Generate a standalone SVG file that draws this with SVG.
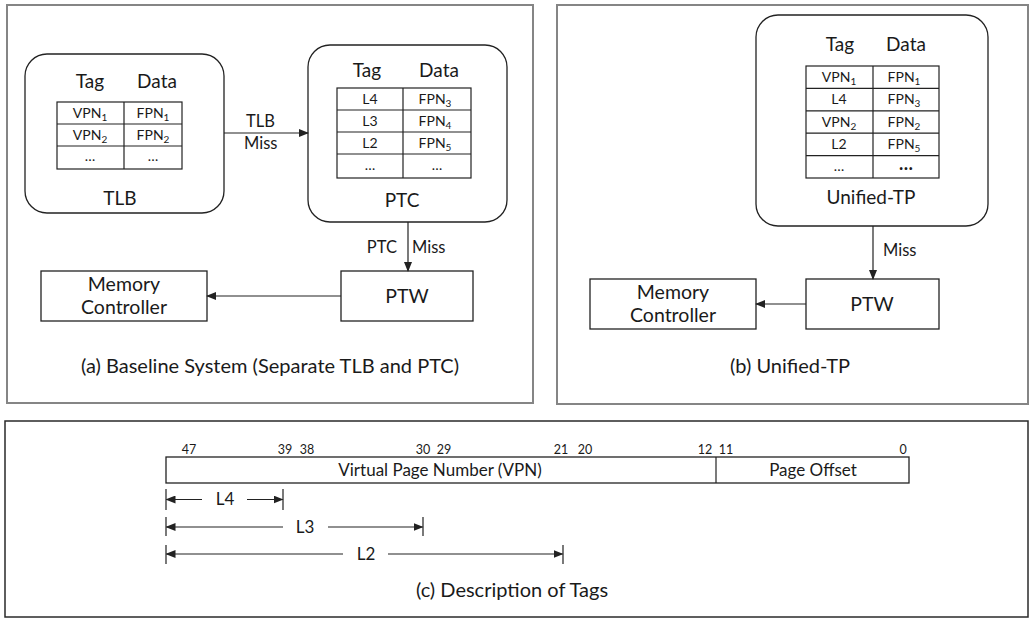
<svg xmlns="http://www.w3.org/2000/svg" width="1030" height="620" viewBox="0 0 1030 620">
<style>
text{font-family:Lato,"Open Sans","Liberation Sans",sans-serif;fill:#1a1a1a}
.panel{fill:none;stroke:#858585;stroke-width:2}
.panelc{fill:none;stroke:#2a2a2a;stroke-width:1.5}
.box{fill:#fff;stroke:#222;stroke-width:1.3}
.tbl{fill:none;stroke:#222;stroke-width:1.2}
.hdr{font-size:19px;text-anchor:middle}
.cell{font-size:14px;text-anchor:middle}
.lbl{font-size:19px;text-anchor:middle}
.node{font-size:19.5px;text-anchor:middle}
.edge{font-size:16.5px}
.cap{font-size:20px;text-anchor:middle}
.bit{font-size:12.5px;text-anchor:middle}
.fld{font-size:17px;text-anchor:middle}
.rng{font-size:17px;text-anchor:middle}
.sub{font-size:10px}
.ln{stroke:#222;stroke-width:1.2;fill:none}
</style>
<defs>
<marker id="ah" markerWidth="10" markerHeight="8" refX="9" refY="4" orient="auto" markerUnits="userSpaceOnUse">
<path d="M0,0 L10,4 L0,8 Z" fill="#222"/>
</marker>
</defs>

<g id="panels">
<rect class="panel" x="7" y="5" width="526" height="398"/>
<rect class="panel" x="557" y="5" width="471" height="399"/>
<rect class="panelc" x="5" y="421" width="1023" height="196"/>
</g>

<g id="tlb">
<rect class="box" x="25" y="54" width="199" height="159" rx="22"/>
<text class="hdr" x="90" y="88">Tag</text>
<text class="hdr" x="157" y="88">Data</text>
<rect class="tbl" x="57" y="102" width="125" height="67"/>
<path class="tbl" d="M124,102V169M57,124H182M57,146H182"/>
<text class="cell" x="90" y="118">VPN<tspan class="sub" dy="3">1</tspan></text>
<text class="cell" x="153" y="118">FPN<tspan class="sub" dy="3">1</tspan></text>
<text class="cell" x="90" y="140">VPN<tspan class="sub" dy="3">2</tspan></text>
<text class="cell" x="153" y="140">FPN<tspan class="sub" dy="3">2</tspan></text>
<text class="cell" x="90" y="161">…</text>
<text class="cell" x="153" y="161">…</text>
<text class="lbl" x="120" y="205">TLB</text>
</g>

<g id="ptc">
<rect class="box" x="308" y="45" width="199" height="177" rx="22"/>
<text class="hdr" x="367" y="77">Tag</text>
<text class="hdr" x="439" y="77">Data</text>
<rect class="tbl" x="337" y="88" width="134" height="90"/>
<path class="tbl" d="M403,88V178M337,110H471M337,132H471M337,154H471"/>
<text class="cell" x="370" y="104">L4</text>
<text class="cell" x="435" y="104">FPN<tspan class="sub" dy="3">3</tspan></text>
<text class="cell" x="370" y="126">L3</text>
<text class="cell" x="435" y="126">FPN<tspan class="sub" dy="3">4</tspan></text>
<text class="cell" x="370" y="148">L2</text>
<text class="cell" x="435" y="148">FPN<tspan class="sub" dy="3">5</tspan></text>
<text class="cell" x="370" y="170">…</text>
<text class="cell" x="437" y="170">…</text>
<text class="lbl" x="402" y="207">PTC</text>
</g>

<g id="mc-a">
<rect class="box" x="41" y="271" width="166" height="50"/>
<text class="node" x="124" y="291">Memory</text>
<text class="node" x="124" y="314">Controller</text>
</g>
<g id="ptw-a">
<rect class="box" x="341" y="271" width="132" height="50"/>
<text class="node" x="407" y="303">PTW</text>
</g>

<g id="unified">
<rect class="box" x="756" y="15" width="232" height="211" rx="22"/>
<text class="hdr" x="840" y="51">Tag</text>
<text class="hdr" x="906" y="51">Data</text>
<rect class="tbl" x="806" y="66" width="133" height="112"/>
<path class="tbl" d="M873,66V178M806,88.4H939M806,110.8H939M806,133.2H939M806,155.6H939"/>
<text class="cell" x="839" y="82">VPN<tspan class="sub" dy="3">1</tspan></text>
<text class="cell" x="904" y="82">FPN<tspan class="sub" dy="3">1</tspan></text>
<text class="cell" x="839" y="104">L4</text>
<text class="cell" x="904" y="104">FPN<tspan class="sub" dy="3">3</tspan></text>
<text class="cell" x="839" y="127">VPN<tspan class="sub" dy="3">2</tspan></text>
<text class="cell" x="904" y="127">FPN<tspan class="sub" dy="3">2</tspan></text>
<text class="cell" x="839" y="149">L2</text>
<text class="cell" x="904" y="149">FPN<tspan class="sub" dy="3">5</tspan></text>
<text class="cell" x="839" y="171">…</text>
<text class="cell" x="906" y="170" style="font-size:18px;font-weight:bold">…</text>
<text class="lbl" x="871" y="204">Unified-TP</text>
</g>

<g id="mc-b">
<rect class="box" x="590" y="279" width="166" height="50"/>
<text class="node" x="673" y="299">Memory</text>
<text class="node" x="673" y="322">Controller</text>
</g>
<g id="ptw-b">
<rect class="box" x="806" y="279" width="133" height="50"/>
<text class="node" x="872" y="311">PTW</text>
</g>

<g id="connectors">
<line class="ln" x1="224" y1="133" x2="308" y2="133" marker-end="url(#ah)"/>
<text class="edge" x="246" y="127">TLB</text>
<text class="edge" x="244" y="149">Miss</text>
<line class="ln" x1="408" y1="222" x2="408" y2="271" marker-end="url(#ah)"/>
<text class="edge" x="397" y="253" text-anchor="end">PTC</text>
<text class="edge" x="412" y="253">Miss</text>
<line class="ln" x1="341" y1="296" x2="207" y2="296" marker-end="url(#ah)"/>
<line class="ln" x1="873" y1="226" x2="873" y2="279" marker-end="url(#ah)"/>
<text class="edge" x="883" y="256">Miss</text>
<line class="ln" x1="806" y1="304" x2="756" y2="304" marker-end="url(#ah)"/>
</g>

<g id="captions">
<text class="cap" x="270" y="373">(a) Baseline System (Separate TLB and PTC)</text>
<text class="cap" x="790" y="373">(b) Unified-TP</text>
<text class="cap" x="512" y="597">(c) Description of Tags</text>
</g>

<g id="bitfield">
<rect class="box" x="166" y="457" width="743" height="26"/>
<line class="ln" x1="716" y1="457" x2="716" y2="483"/>
<text class="fld" x="440" y="476">Virtual Page Number (VPN)</text>
<text class="fld" x="813" y="476">Page Offset</text>
<text class="bit" x="189" y="454">47</text>
<text class="bit" x="285" y="454">39</text>
<text class="bit" x="307" y="454">38</text>
<text class="bit" x="423" y="454">30</text>
<text class="bit" x="444" y="454">29</text>
<text class="bit" x="561" y="454">21</text>
<text class="bit" x="585" y="454">20</text>
<text class="bit" x="705" y="454">12</text>
<text class="bit" x="726" y="454">11</text>
<text class="bit" x="903" y="454">0</text>
</g>

<g id="tag-ranges">
<path class="ln" d="M166,489V510M283,489V510M166,517V536M423,517V536M166,545V564M563,545V564"/>
<line class="ln" x1="202" y1="499.5" x2="166.5" y2="499.5" marker-end="url(#ah)"/>
<line class="ln" x1="247" y1="499.5" x2="282.5" y2="499.5" marker-end="url(#ah)"/>
<text class="rng" x="225" y="505">L4</text>
<line class="ln" x1="283" y1="527" x2="166.5" y2="527" marker-end="url(#ah)"/>
<line class="ln" x1="328" y1="527" x2="422.5" y2="527" marker-end="url(#ah)"/>
<text class="rng" x="305" y="533">L3</text>
<line class="ln" x1="343" y1="554" x2="166.5" y2="554" marker-end="url(#ah)"/>
<line class="ln" x1="388" y1="554" x2="562.5" y2="554" marker-end="url(#ah)"/>
<text class="rng" x="366" y="560">L2</text>
</g>
</svg>
